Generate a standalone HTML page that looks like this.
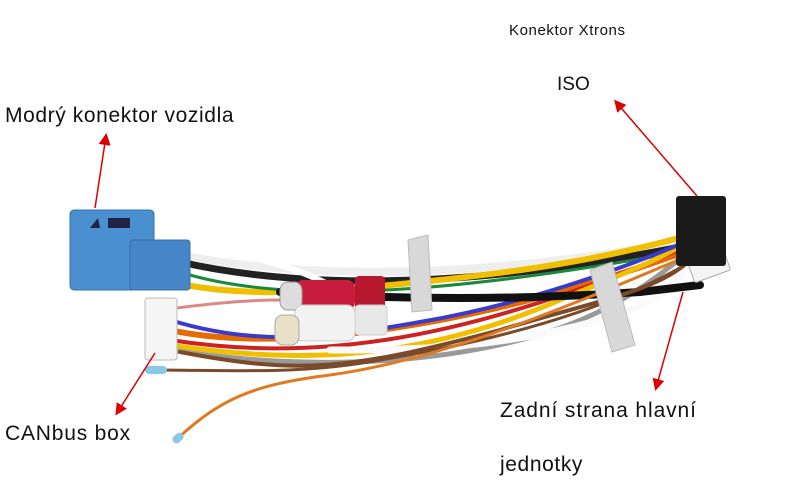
<!DOCTYPE html>
<html><head><meta charset="utf-8"><style>
html,body{margin:0;padding:0;background:#fff;}
body{width:800px;height:490px;position:relative;overflow:hidden;font-family:"Liberation Sans",sans-serif;}
.t{position:absolute;color:#111;white-space:nowrap;}
</style></head><body>
<svg width="800" height="490" style="position:absolute;left:0;top:0">
<defs><marker id="ah" markerWidth="8" markerHeight="8" refX="6" refY="4" orient="auto"><path d="M0,0 L8,4 L0,8 z" fill="#d00"/></marker></defs>
<g fill="none" stroke-linecap="round">
<path d="M180,255 C260,270 420,290 690,240" stroke="#eee" stroke-width="8"/>
<path d="M180,262 C260,280 420,300 690,245" stroke="#222" stroke-width="7"/>
<path d="M185,285 C240,295 300,295 420,282 C520,272 600,260 690,235" stroke="#f0c000" stroke-width="6"/>
<path d="M190,275 C280,300 420,300 690,250" stroke="#1a8a3a" stroke-width="3"/>
<path d="M170,330 C260,350 440,340 690,250" stroke="#e56a00" stroke-width="6"/>
<path d="M170,340 C300,360 450,350 690,245" stroke="#c22" stroke-width="4"/>
<path d="M170,345 C300,365 420,360 560,300 C620,275 660,260 690,240" stroke="#f0c000" stroke-width="5"/>
<path d="M170,320 C250,345 320,340 420,322 C520,305 620,270 690,240" stroke="#3a3acc" stroke-width="4"/>
<path d="M170,350 C300,370 420,365 520,340 C600,320 650,285 690,250" stroke="#999" stroke-width="5"/>
<path d="M330,350 C420,350 500,348 600,320 C660,300 680,290 690,255" stroke="#fafafa" stroke-width="7"/>
<path d="M280,292 C400,300 520,300 640,292 L700,285" stroke="#111" stroke-width="8"/>
<path d="M180,352 C300,375 350,370 500,330 C600,300 660,290 690,260" stroke="#7a4a2a" stroke-width="4"/>
<path d="M150,370 C230,370 300,375 380,360 C500,340 610,310 690,262" stroke="#7a4a2a" stroke-width="3"/>
<path d="M178,438 C220,400 250,385 330,375 C440,360 560,310 690,255" stroke="#e07a20" stroke-width="3"/>
<path d="M190,248 C260,255 300,270 330,285" stroke="#fff" stroke-width="6"/>
<path d="M160,310 C200,305 240,300 280,300" stroke="#d88" stroke-width="3"/>
</g>
<rect x="295" y="280" width="60" height="30" rx="8" fill="#c81c3c"/>
<rect x="355" y="276" width="30" height="34" rx="4" fill="#b8182f"/>
<rect x="280" y="282" width="22" height="28" rx="8" fill="#ddd" stroke="#999"/>
<rect x="295" y="305" width="60" height="36" rx="8" fill="#f2f2f2" stroke="#ccc"/>
<rect x="355" y="305" width="32" height="30" rx="4" fill="#e8e8e8" stroke="#ccc"/>
<rect x="275" y="315" width="24" height="30" rx="8" fill="#e8e0c8" stroke="#aaa"/>
<path d="M408,240 L428,235 L432,310 L412,312 z" fill="#d8d8d8" stroke="#bbb"/>
<path d="M590,270 L612,262 L635,345 L612,352 z" fill="#d8d8d8" stroke="#bbb"/>
<rect x="70" y="210" width="84" height="80" rx="4" fill="#4a8fd0" stroke="#3a70a8"/>
<rect x="130" y="240" width="60" height="50" rx="3" fill="#4585c8" stroke="#3a70a8"/>
<path d="M98,218 L90,228 L100,228 z" fill="#224"/>
<rect x="108" y="218" width="22" height="10" fill="#224"/>
<rect x="145" y="298" width="32" height="62" rx="3" fill="#f5f5f5" stroke="#bbb"/>
<rect x="690" y="255" width="38" height="22" rx="2" fill="#f4f4f4" stroke="#aaa" transform="rotate(-20 709 266)"/>
<rect x="676" y="196" width="50" height="70" rx="3" fill="#1a1a1a"/>
<rect x="145" y="366" width="22" height="8" rx="4" fill="#8ac8e8"/>
<rect x="172" y="434" width="12" height="8" rx="4" fill="#8ac8e8" transform="rotate(-40 178 438)"/>
<g stroke="#d00" stroke-width="1.5" marker-end="url(#ah)">
<line x1="95" y1="208" x2="106" y2="136"/>
<line x1="697" y1="196" x2="616" y2="102"/>
<line x1="155" y1="353" x2="117" y2="413"/>
<line x1="683" y1="292" x2="656" y2="388"/>
</g>
</svg>
<div class="t" style="left:509px;top:22px;font-size:15px;letter-spacing:0.6px">Konektor Xtrons</div>
<div class="t" style="left:557px;top:74px;font-size:19px">ISO</div>
<div class="t" style="left:5px;top:104px;font-size:21px;letter-spacing:0.6px">Modrý konektor vozidla</div>
<div class="t" style="left:5px;top:422px;font-size:21px;letter-spacing:0.8px">CANbus box</div>
<div class="t" style="left:500px;top:399px;font-size:21px;letter-spacing:0.9px">Zadní strana hlavní</div>
<div class="t" style="left:500px;top:453px;font-size:21px;letter-spacing:0.6px">jednotky</div>
</body></html>
